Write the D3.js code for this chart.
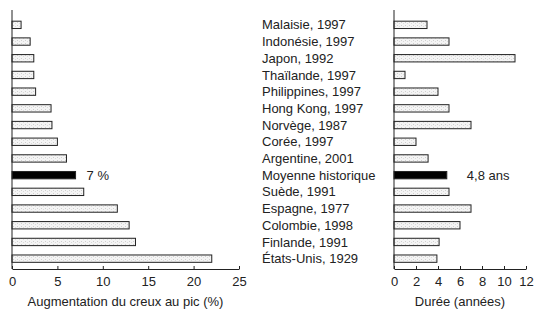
<!DOCTYPE html>
<html>
<head>
<meta charset="utf-8">
<script src="https://cdn.jsdelivr.net/npm/d3@7"></script>
<style>
  body { margin: 0; background: #fff; }
  svg { display: block; font-family: "Liberation Sans", Arial, Helvetica, sans-serif; }
  .axis path, .axis line { stroke: #222; }
  .axis text { font-size: 13px; fill: #222; }
</style>
</head>
<body>
<div id="chart"></div>
<script>
// pays / épisodes, de haut en bas
const countries = ["Malaisie", "Indonésie", "Japon", "Thaïlande", "Philippines", "Hong Kong", "Norvège", "Corée", "Argentine", "Moyenne historique", "Suède", "Espagne", "Colombie", "Finlande", "États-Unis"];
const years = [1997, 1997, 1992, 1997, 1997, 1997, 1987, 1997, 2001, null, 1991, 1977, 1998, 1991, 1929];

// augmentation du creux au pic (%)
const rise = [1, 2, 2.4, 2.4, 2.6, 4.3, 4.4, 5, 6, 7, 7.9, 11.6, 12.9, 13.6, 22];
// durée (années)
const duration = [3, 5, 11, 1, 4, 5, 7, 2, 3.1, 4.8, 5, 7, 6, 4.1, 3.9];

const avgIndex = 9;
const riseTicks = [0, 5, 10, 15, 20, 25];
const durTicks = [0, 2, 4, 6, 8, 10, 12];

const width = 536, height = 309;

const svg = d3.select("#chart").append("svg")
    .attr("width", width)
    .attr("height", height);

// trame grise des barres
const pat = svg.append("defs").append("pattern")
    .attr("id", "trame")
    .attr("width", 4)
    .attr("height", 3)
    .attr("patternUnits", "userSpaceOnUse");
pat.append("rect").attr("width", 4).attr("height", 3).attr("fill", "#f4f4f4");
pat.append("rect").attr("x", 1).attr("y", 1).attr("width", 1).attr("height", 1).attr("fill", "#cfcfcf");
pat.append("rect").attr("x", 3).attr("y", 2).attr("width", 1).attr("height", 1).attr("fill", "#dcdcdc");

const y = d3.scaleBand()
    .domain(d3.range(countries.length))
    .range([16.5, 267])
    .paddingInner(0.56)
    .paddingOuter(0.28);

const xLeft = d3.scaleLinear().domain([0, 25]).range([12, 239]);
const xRight = d3.scaleLinear().domain([0, 12]).range([394, 526]);

const axisY = 269;

function drawPanel(x, values, ticks, title, valueLabel, labelGap) {
    const g = svg.append("g");

    g.selectAll("rect")
        .data(values)
        .enter().append("rect")
        .attr("x", x(0))
        .attr("y", (d, i) => y(i))
        .attr("width", d => x(d) - x(0))
        .attr("height", y.bandwidth())
        .attr("fill", (d, i) => i === avgIndex ? "#000" : "url(#trame)")
        .attr("stroke", "#222")
        .attr("stroke-width", 1);

    // axe vertical
    g.append("line")
        .attr("x1", x(0)).attr("x2", x(0))
        .attr("y1", 10).attr("y2", axisY)
        .attr("stroke", "#222");

    g.append("g")
        .attr("class", "axis")
        .attr("transform", `translate(0,${axisY})`)
        .call(d3.axisBottom(x).tickValues(ticks).tickSize(-3).tickPadding(8).tickSizeOuter(0));

    g.append("text")
        .attr("x", (x.range()[0] + x.range()[1]) / 2)
        .attr("y", 306)
        .attr("text-anchor", "middle")
        .attr("font-size", "13px")
        .attr("fill", "#222")
        .text(title);

    g.append("text")
        .attr("x", x(values[avgIndex]) + labelGap)
        .attr("y", y(avgIndex) + y.bandwidth() / 2)
        .attr("dy", "0.35em")
        .attr("font-size", "13px")
        .attr("fill", "#222")
        .text(valueLabel);
}

drawPanel(xLeft, rise, riseTicks, "Augmentation du creux au pic (%)", "7 %", 11);
drawPanel(xRight, duration, durTicks, "Durée (années)", "4,8 ans", 20);

svg.append("g")
    .selectAll("text")
    .data(countries)
    .enter().append("text")
    .attr("x", 262)
    .attr("y", (d, i) => y(i) + y.bandwidth() / 2)
    .attr("dy", "0.35em")
    .attr("font-size", "13px")
    .attr("fill", "#222")
    .text((d, i) => years[i] ? `${d}, ${years[i]}` : d);
</script>
</body>
</html>
